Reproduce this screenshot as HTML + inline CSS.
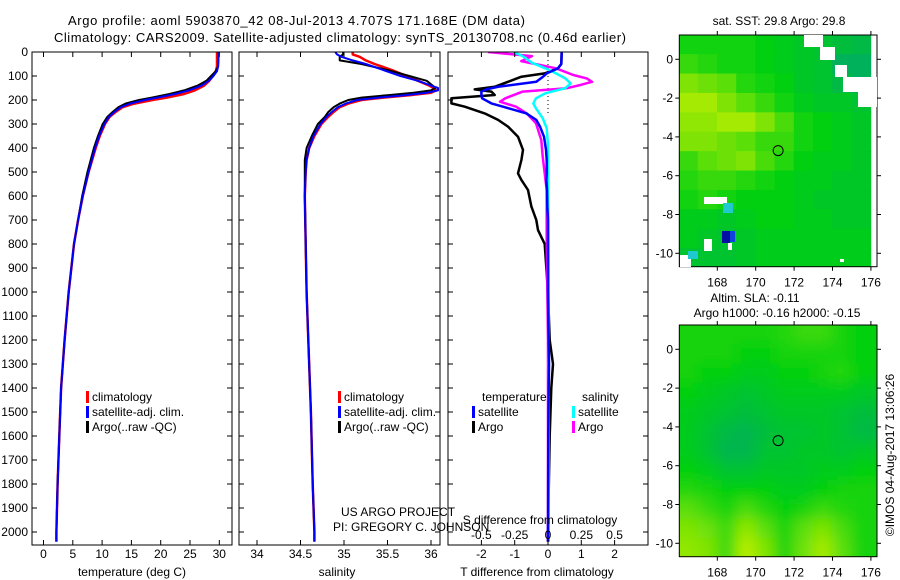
<!DOCTYPE html>
<html><head><meta charset="utf-8"><style>
html,body{margin:0;padding:0;background:#fff}
svg{display:block;font-family:"Liberation Sans",Arial,sans-serif}
text{fill:#000}
</style></head><body>
<svg id="fig" width="900" height="580" viewBox="0 0 900 580" xmlns="http://www.w3.org/2000/svg">
<rect width="900" height="580" fill="#fff"/>
<defs>
<clipPath id="cp1"><rect x="32" y="52" width="200" height="493"/></clipPath>
<clipPath id="cp2"><rect x="239" y="52" width="201" height="493"/></clipPath>
<clipPath id="cp3"><rect x="448" y="52" width="200" height="493"/></clipPath>
<clipPath id="cm1"><rect x="679.3" y="35" width="197.7" height="231.7"/></clipPath>
<clipPath id="cm2"><rect x="679.3" y="325" width="197.7" height="231.7"/></clipPath>
<filter id="blur" filterUnits="userSpaceOnUse" x="600" y="250" width="360" height="380"><feGaussianBlur stdDeviation="7"/></filter>
</defs>
<text x="68" y="25" font-size="13" textLength="457">Argo profile: aoml 5903870_42 08-Jul-2013 4.707S 171.168E (DM data)</text>
<text x="54" y="42" font-size="13" textLength="572">Climatology: CARS2009. Satellite-adjusted climatology: synTS_20130708.nc (0.46d earlier)</text>
<g id="g1"></g>
<g id="g2"></g>
<g id="g3"></g>
<g id="gm1"></g>
<g id="gm2"></g>
<text x="779" y="25" font-size="12" text-anchor="middle">sat. SST: 29.8 Argo: 29.8</text>
<text x="755" y="302" font-size="12" text-anchor="middle">Altim. SLA: -0.11</text>
<text x="777" y="317" font-size="12" text-anchor="middle">Argo h1000: -0.16 h2000: -0.15</text>
<text transform="translate(894,455) rotate(-90)" font-size="12" text-anchor="middle">©IMOS 04-Aug-2017 13:06:26</text>
<text x="341" y="516" font-size="12">US ARGO PROJECT</text>
<text x="333" y="531" font-size="12">PI: GREGORY C. JOHNSON</text>
</svg>
<script>
// ---- temperature profiles ----
const depthT = [0,60,80,100,120,140,160,175,190,200,215,230,250,270,300,350,400,500,600,700,800,1000,1200,1400,1600,1800,2000,2040];
const tempArgo = [29.9,29.8,29.4,28.6,27.8,26.3,24,21.5,18.5,16.3,14,12.8,11.8,10.9,10.1,9.3,8.6,7.5,6.6,5.9,5.2,4.3,3.6,3.0,2.7,2.4,2.2,2.2];
const tempClim = [29.6,29.6,29.4,28.9,28.3,27.4,25.8,24,21,18.6,15.5,13.5,12.3,11.3,10.5,9.6,8.9,7.7,6.7,5.9,5.2,4.3,3.6,3.0,2.7,2.4,2.2,2.2];
const tempSat = [29.9,29.8,29.6,29.0,28.2,27,24.8,22.5,19.5,17.3,14.8,13.2,12.1,11.2,10.4,9.5,8.8,7.7,6.7,5.9,5.2,4.3,3.6,3.0,2.7,2.4,2.2,2.2];
// ---- salinity profiles ----
const depthS = [0,10,20,35,50,75,100,120,140,150,160,170,180,190,200,215,230,250,270,300,350,400,450,500,600,800,1000,1200,1500,1800,2000,2040];
const salArgo = [34.99,34.99,34.95,34.95,35.2,35.5,35.75,35.95,36.02,36.05,36.0,35.8,35.5,35.2,35.05,34.95,34.88,34.82,34.78,34.7,34.63,34.57,34.55,34.55,34.55,34.56,34.57,34.59,34.62,34.64,34.66,34.66];
const salClim = [35.1,35.1,35.18,35.25,35.35,35.55,35.72,35.85,35.98,36.03,36.06,36.0,35.75,35.45,35.2,35.05,34.95,34.88,34.82,34.74,34.66,34.6,34.57,34.56,34.55,34.56,34.57,34.59,34.62,34.64,34.66,34.66];
const salSat = [34.9,34.92,34.97,35.1,35.25,35.45,35.65,35.85,36.0,36.08,36.08,35.95,35.7,35.4,35.15,35.02,34.93,34.86,34.8,34.73,34.65,34.6,34.57,34.56,34.55,34.56,34.57,34.59,34.62,34.64,34.66,34.66];
// ---- differences ----
const depthDT = [0,50,68,89,103,124,145,156,165,179,193,214,228,256,283,311,353,408,450,506,533,575,644,700,742,800,1000,1200,1300,1400,1600,2000,2040];
const dTArgo = [0.41,0.4,0.3,-0.1,-0.8,-1.2,-1.6,-2.2,-1.7,-1.6,-2.9,-2.9,-2.5,-1.9,-1.5,-1.2,-0.9,-0.75,-0.8,-0.9,-0.8,-0.6,-0.5,-0.35,-0.3,-0.1,0,0.05,0.15,0.1,0.05,0,0];
const dTSat = [0.41,0.4,0.3,-0.04,-0.15,-0.35,-1.5,-1.85,-2.0,-2.0,-1.98,-1.7,-1.35,-0.65,-0.35,-0.24,-0.12,-0.06,-0.04,-0.04,-0.05,-0.03,-0.02,0,0,0,0,0.02,0.03,0.02,0.01,0,0];
const depthDSArgo = [0,17,38,54,68,96,110,124,138,151,165,193,207,228,256,297,367,436,575,800,1200,2040];
const dSArgo = [-0.45,-0.12,-0.2,-0.06,0.06,0.19,0.29,0.33,0.24,0.14,-0.19,-0.32,-0.36,-0.24,-0.16,-0.09,-0.05,-0.04,-0.01,-0.01,0,0];
const depthDSSat = [0,17,45,68,89,110,131,151,172,193,214,235,276,318,387,1000,2040];
const dSSat = [-0.26,-0.19,-0.12,-0.02,0.06,0.13,0.17,0.13,-0.02,-0.09,-0.11,-0.09,-0.04,-0.01,0,0.005,0.005];
// ---- tick labels ----
const depthTicks = [0,100,200,300,400,500,600,700,800,900,1000,1100,1200,1300,1400,1500,1600,1700,1800,1900,2000];
const tempTicks = [0,5,10,15,20,25,30];
const salTicks = ["34","34.5","35","35.5","36"];
const dTTicks = [-2,-1,0,1,2];
const dSTicks = ["-0.5","-0.25","0","0.25","0.5"];
const lonTicks = [168,170,172,174,176];
const latTicks = [0,-2,-4,-6,-8,-10];
// ---- maps ----
const sstGrid = [
[0.5,0.5,0.5,0.5,0.45,0.4,0.35,0.3,0.25,0.2],
[0.6,0.55,0.5,0.5,0.45,0.4,0.35,0.3,0.1,0.1],
[0.8,0.75,0.7,0.55,0.5,0.45,0.35,0.3,0.2,0.1],
[0.9,0.9,0.8,0.7,0.6,0.5,0.4,0.35,0.35,0.3],
[0.85,0.85,0.9,0.9,0.8,0.65,0.5,0.45,0.4,0.35],
[0.8,0.8,0.75,0.7,0.6,0.6,0.5,0.45,0.4,0.35],
[0.6,0.7,0.75,0.8,0.65,0.55,0.45,0.4,0.4,0.35],
[0.55,0.6,0.6,0.55,0.5,0.45,0.4,0.4,0.35,0.35],
[0.5,0.55,0.5,0.45,0.45,0.45,0.4,0.35,0.35,0.35],
[0.4,0.4,0.35,0.4,0.45,0.45,0.4,0.4,0.35,0.35],
[0.4,0.35,0.3,0.35,0.4,0.4,0.4,0.4,0.4,0.4],
[0.3,0.3,0.3,0.35,0.4,0.4,0.4,0.4,0.4,0.4]];
const slaGrid = [
[0.5,0.5,0.5,0.5,0.5,0.55,0.6,0.6,0.5,0.45],
[0.5,0.5,0.5,0.45,0.45,0.5,0.5,0.5,0.5,0.45],
[0.5,0.45,0.45,0.4,0.4,0.45,0.45,0.5,0.55,0.45],
[0.45,0.4,0.35,0.3,0.35,0.4,0.4,0.4,0.4,0.35],
[0.4,0.35,0.3,0.25,0.3,0.35,0.35,0.35,0.3,0.25],
[0.4,0.3,0.2,0.15,0.25,0.3,0.3,0.35,0.3,0.2],
[0.4,0.3,0.15,0.15,0.3,0.3,0.35,0.35,0.3,0.35],
[0.45,0.4,0.3,0.3,0.35,0.35,0.35,0.4,0.4,0.45],
[0.55,0.5,0.45,0.45,0.45,0.4,0.4,0.45,0.5,0.5],
[0.7,0.6,0.5,0.65,0.55,0.45,0.5,0.6,0.55,0.5],
[0.8,0.75,0.6,0.85,0.7,0.5,0.7,0.8,0.65,0.5],
[0.85,0.8,0.6,0.95,0.8,0.5,0.75,0.9,0.7,0.5]];
const floatLon = 171.168, floatLat = -4.707;

const NS="http://www.w3.org/2000/svg";
function mk(tag, attrs, parent){const e=document.createElementNS(NS,tag);for(const k in attrs)e.setAttribute(k,attrs[k]);parent.appendChild(e);return e;}
const yD = d => 52 + d*0.24;
const xT = t => 43.5 + t*5.86;
const xS = s => 257 + (s-34)*87;
const xDT = t => 548 + t*33.3;
const xDS = s => 548 + s*133.3;
const BOT=545, TOP=52;

function box(g,x0,x1,name){
  const r=mk('rect',{x:x0,y:TOP,width:x1-x0,height:BOT-TOP,fill:'none',stroke:'#000','stroke-width':1},g);
  
  
  depthTicks.forEach(d=>{
    mk('line',{x1:x0,x2:x0+5,y1:yD(d),y2:yD(d),stroke:'#000'},g);
    mk('line',{x1:x1,x2:x1-5,y1:yD(d),y2:yD(d),stroke:'#000'},g);
  });
}
function xticks(g,vals,fx,labels,name){
  vals.forEach((v,i)=>{
    const x=fx(v);
    mk('line',{x1:x,x2:x,y1:TOP,y2:TOP+5,stroke:'#000'},g);
    mk('line',{x1:x,x2:x,y1:BOT,y2:BOT-5,stroke:'#000'},g);
    const t=mk('text',{x:x,y:558,'font-size':12,'text-anchor':'middle'},g);
    t.textContent=labels[i];
    
    
  });
}
function line(g,xs,ds,fx,color,clip,name,w){
  const p=xs.map((v,i)=>(i?'L':'M')+fx(v).toFixed(1)+' '+yD(ds[i]).toFixed(1)).join('');
  const e=mk('path',{d:p,fill:'none',stroke:color,'stroke-width':w||2,'clip-path':'url(#'+clip+')','stroke-linejoin':'round'},g);
  
  
}
function legend(g,x,y,color,label,name){
  mk('rect',{x:x,y:y-6,width:3,height:12,fill:color},g);
  const t=mk('text',{x:x+6,y:y+4,'font-size':12},g);
  t.textContent=label;
  
  
}
function txt(g,x,y,s,anchor,name){
  const t=mk('text',{x:x,y:y,'font-size':12,'text-anchor':anchor||'start'},g);
  t.textContent=s;
  
  
  return t;
}

// Panel 1
const g1=document.getElementById('g1');
line(g1,tempClim,depthT,xT,'#ff0000','cp1','temp-climatology-line',2.5);
line(g1,tempArgo,depthT,xT,'#000000','cp1','temp-argo-line',2);
line(g1,tempSat,depthT,xT,'#0000ff','cp1','temp-satellite-line',2);
box(g1,32,232,'temperature-axes');
depthTicks.forEach(d=>{txt(g1,28,yD(d)+4,String(d),'end','depth-tick-label');});
xticks(g1,tempTicks,xT,tempTicks.map(String),'temp-tick-label');
txt(g1,132,576,'temperature (deg C)','middle','temp-axis-title');
legend(g1,86,397,'#ff0000','climatology','legend-climatology');
legend(g1,86,412,'#0000ff','satellite-adj. clim.','legend-satellite');
legend(g1,86,427,'#000000','Argo(..raw -QC)','legend-argo');

// Panel 2
const g2=document.getElementById('g2');
line(g2,salClim,depthS,xS,'#ff0000','cp2','sal-climatology-line',2.5);
line(g2,salArgo,depthS,xS,'#000000','cp2','sal-argo-line',2);
line(g2,salSat,depthS,xS,'#0000ff','cp2','sal-satellite-line',2);
box(g2,239,440,'salinity-axes');
xticks(g2,salTicks.map(Number),xS,salTicks,'sal-tick-label');
txt(g2,337,576,'salinity','middle','sal-axis-title');
legend(g2,338,397,'#ff0000','climatology','legend-climatology');
legend(g2,338,412,'#0000ff','satellite-adj. clim.','legend-satellite');
legend(g2,338,427,'#000000','Argo(..raw -QC)','legend-argo');

// Panel 3
const g3=document.getElementById('g3');
mk('line',{x1:548,x2:548,y1:TOP,y2:yD(260),stroke:'#000','stroke-dasharray':'1 3'},g3);
line(g3,dTArgo,depthDT,xDT,'#000000','cp3','tdiff-argo-line',2.5);
line(g3,dSArgo,depthDSArgo,xDS,'#ff00ff','cp3','sdiff-argo-line',2.5);
line(g3,dSSat,depthDSSat,xDS,'#00ffff','cp3','sdiff-satellite-line',2.5);
line(g3,dTSat,depthDT,xDT,'#0000ff','cp3','tdiff-satellite-line',2.5);
box(g3,448,648,'difference-axes');
xticks(g3,dTTicks,xDT,dTTicks.map(String),'tdiff-tick-label');
dSTicks.forEach(s=>{txt(g3,xDS(Number(s)),539,s,'middle','sdiff-tick-label');});
txt(g3,540,524,'S difference from climatology','middle','sdiff-axis-title');
txt(g3,537,576,'T difference from climatology','middle','tdiff-axis-title');
txt(g3,482,401,'temperature','start','legend-temperature-header');
legend(g3,472,412,'#0000ff','satellite','legend-t-satellite');
legend(g3,472,427,'#000000','Argo','legend-t-argo');
txt(g3,582,401,'salinity','start','legend-salinity-header');
legend(g3,572,412,'#00ffff','satellite','legend-s-satellite');
legend(g3,572,427,'#ff00ff','Argo','legend-s-argo');

// Maps
function col(v){
  const a=[0,168,112], b=[0,208,16], c=[200,240,0];
  let p,q,t;
  if(v<0.45){p=a;q=b;t=v/0.45;}else{p=b;q=c;t=(v-0.45)/0.55;}
  return 'rgb('+p.map((x,i)=>Math.round(x+(q[i]-x)*t)).join(',')+')';
}
const xL = lon => 717.3 + (lon-168)*19.2;
function drawMap(gid,grid,top,clip,blur,name){
  const g=document.getElementById(gid);
  const yL = lat => top+24.3 + (-lat)*19.4;
  const cg=mk('g',{'clip-path':'url(#'+clip+')'},g);
  const inner=mk('g',blur?{filter:'url(#blur)'}:{},cg);
  const nr=grid.length;
  grid.forEach((row,r)=>row.forEach((v,c)=>{
    let x=xL(166+c)-0.3, y=yL(1.25-r)-0.3, w=19.8, h=20;
    if(blur){
      if(c===0){x-=30;w+=30;}
      if(c===row.length-1){w+=30;}
      if(r===0){y-=30;h+=30;}
      if(r===nr-1){h+=30;}
    }
    const e=mk('rect',{x:x,y:y,width:w,height:h,fill:col(v)},inner);
    
    
  }));
  const circ=mk('circle',{cx:xL(floatLon),cy:yL(floatLat),r:5,fill:'none',stroke:'#000','stroke-width':1},g);
  
  
  const x0=679.3,x1=877,y0=top,y1=top+231.7;
  mk('rect',{x:x0,y:y0,width:x1-x0,height:y1-y0,fill:'none',stroke:'#000'},g);
  lonTicks.forEach(l=>{
    const x=xL(l);
    mk('line',{x1:x,x2:x,y1:y0,y2:y0-4,stroke:'#000'},g);
    mk('line',{x1:x,x2:x,y1:y1,y2:y1+4,stroke:'#000'},g);
    txt(g,x,y1+20,String(l),'middle','lon-tick-label');
  });
  latTicks.forEach(l=>{
    const y=yL(l);
    mk('line',{x1:x0,x2:x0-4,y1:y,y2:y,stroke:'#000'},g);
    mk('line',{x1:x1,x2:x1+4,y1:y,y2:y,stroke:'#000'},g);
    txt(g,673,y+4,String(l),'end','lat-tick-label');
  });
  return g;
}
const m1=drawMap('gm1',sstGrid,35,'cm1',false,'sst');
const patches=[[804,35,19,12,'#fff'],[820,47,15,13,'#fff'],[835,65,12,12,'#fff'],[843,77,34,15,'#fff'],[858,92,19,15,'#fff'],
[704,197,23,7,'#fff'],[723,203,10,10,'#20c8d0'],[722,231,8,12,'#0010a0'],[730,231,5,11,'#1040e0'],[728,243,4,7,'#fff'],[704,239,8,12,'#fff'],
[680,255,11,12,'#fff'],[688,251,10,8,'#20c8d0'],[840,259,4,3,'#fff']];
patches.forEach(p=>{
  const e=mk('rect',{x:p[0],y:p[1],width:p[2],height:p[3],fill:p[4]},m1);
  
  
});
drawMap('gm2',slaGrid,325,'cm2',true,'sla');
</script>
</body></html>
